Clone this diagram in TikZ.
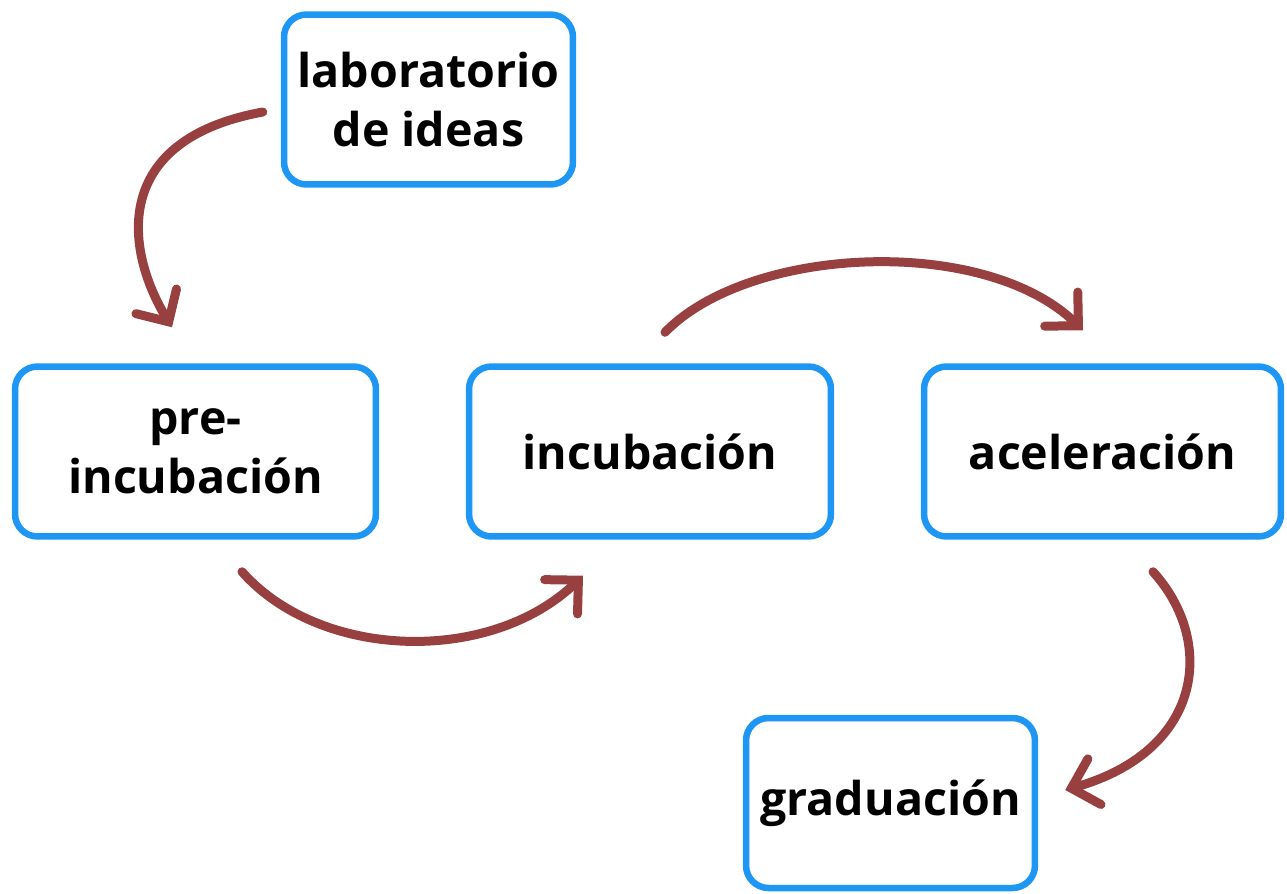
\documentclass[tikz,border=0pt]{standalone}
\usepackage{fontspec}
\setmainfont{Open Sans}
\usepackage{tikz}
\usetikzlibrary{
arrows.meta,
positioning,
calc
}
\definecolor{stageblue}{RGB}{30,150,243}
\definecolor{flowred}{RGB}{152,63,63}

\begin{document}
\begin{tikzpicture}[x=0.02cm, y=-0.02cm,
  stage/.style={draw=stageblue, line width=0.13cm, rounded corners=0.45cm,
    fill=white, align=center, font=\fontsize{26.5}{33.5}\selectfont\bfseries,
    minimum height=3.4cm},
  flow/.style={draw=flowred, line width=0.18cm, line cap=round,
    -{Straight Barb[length=0.48cm, width=0.95cm, line cap=round]}}]

%% Frame
\useasboundingbox (0,0) rectangle (1287,893);

%% Stages
\node[stage, minimum width=5.78cm] (lab) at (428.5,99.5) {laboratorio\\de ideas};
\node[stage, minimum width=7.22cm] (pre) at (195.5,451.5) {pre-\\incubación};
\node[stage, minimum width=7.24cm] (inc) at (650,451.5) {incubación};
\node[stage, minimum width=7.14cm] (acc) at (1102.5,451.5) {aceleración};
\node[stage, minimum width=5.78cm] (grad) at (890.5,803) {graduación};

%% Flow arrows
\draw[flow] ($(lab.west)+(-18,12.5)$)
  .. controls (110,140) and (125,250) .. ($(pre.north)+(-23.5,-36)$);
\draw[flow] ($(pre.south)+(46.5,32)$)
  .. controls (320,660) and (490,665) .. ($(inc.south)+(-67,36)$);
\draw[flow] ($(inc.north)+(15,-31)$)
  .. controls (750,245) and (985,235) .. ($(acc.north)+(-19.5,-33)$);
\draw[flow] ($(acc.south)+(50.5,32)$)
  .. controls (1215,640) and (1205,750) .. ($(grad.east)+(27,-13)$);

\end{tikzpicture}
\end{document}
